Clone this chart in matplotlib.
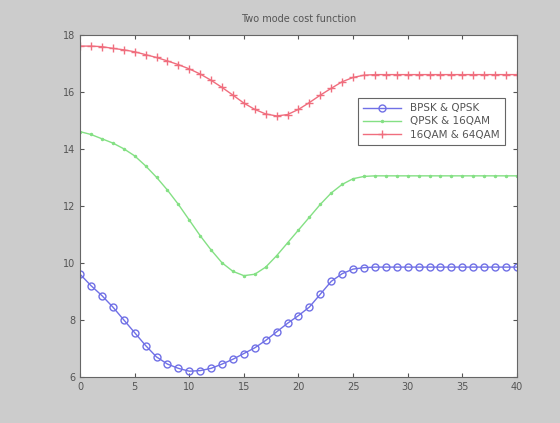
import numpy as np
import matplotlib.pyplot as plt

# Data (41 points, x = 0..40)
x = np.arange(0, 41)
bpsk_qpsk = [9.6, 9.2, 8.85, 8.45, 8.0, 7.55, 7.1, 6.7, 6.45, 6.3,
             6.2, 6.22, 6.3, 6.45, 6.62, 6.82, 7.02, 7.28, 7.58, 7.88,
             8.15, 8.45, 8.9, 9.35, 9.62, 9.78, 9.83] + [9.85] * 14
qpsk_16qam = [14.6, 14.5, 14.35, 14.2, 14.0, 13.75, 13.4, 13.0, 12.55, 12.05,
              11.5, 10.95, 10.45, 10.0, 9.7, 9.55, 9.6, 9.85, 10.25, 10.7,
              11.15, 11.6, 12.05, 12.45, 12.75, 12.95, 13.03] + [13.05] * 14
qam16_64 = [17.6, 17.6, 17.58, 17.52, 17.47, 17.4, 17.3, 17.2, 17.08, 16.95,
            16.8, 16.62, 16.4, 16.15, 15.88, 15.6, 15.38, 15.22, 15.15, 15.2,
            15.38, 15.62, 15.88, 16.12, 16.35, 16.5, 16.58] + [16.6] * 14
labels = ['BPSK & QPSK', 'QPSK & 16QAM', '16QAM & 64QAM']

txt = '#555555'
fig = plt.figure(figsize=(5.6, 4.23), dpi=100, facecolor='#cccccc')
ax = fig.add_axes([0.143, 0.109, 0.780, 0.809])

ax.plot(x, bpsk_qpsk, color='#7070e6', marker='o', markersize=5,
        markerfacecolor='none', linewidth=1, label=labels[0])
ax.plot(x, qpsk_16qam, color='#84e084', marker='.', markersize=3,
        linewidth=1, label=labels[1])
ax.plot(x, qam16_64, color='#f06e7e', marker='+', markersize=6,
        linewidth=1, label=labels[2])

ax.set_xlim(0, 40)
ax.set_ylim(6, 18)
ax.set_xticks(np.arange(0, 41, 5))
ax.set_yticks(np.arange(6, 19, 2))
ax.tick_params(direction='in', top=True, right=True, labelsize=7,
               colors=txt, length=3)
for s in ax.spines.values():
    s.set_color('#666666')
ax.set_title('Two mode cost function', fontsize=7, color=txt, pad=9)

leg = ax.legend(loc='upper right', bbox_to_anchor=(0.985, 0.83), fontsize=7.5,
                fancybox=False, edgecolor='#666666', framealpha=1,
                handlelength=3.6, borderpad=0.5, labelspacing=0.3,
                handletextpad=0.9)
for t in leg.get_texts():
    t.set_color(txt)
leg.get_frame().set_linewidth(0.8)

plt.savefig('out.png', dpi=100, facecolor=fig.get_facecolor())
